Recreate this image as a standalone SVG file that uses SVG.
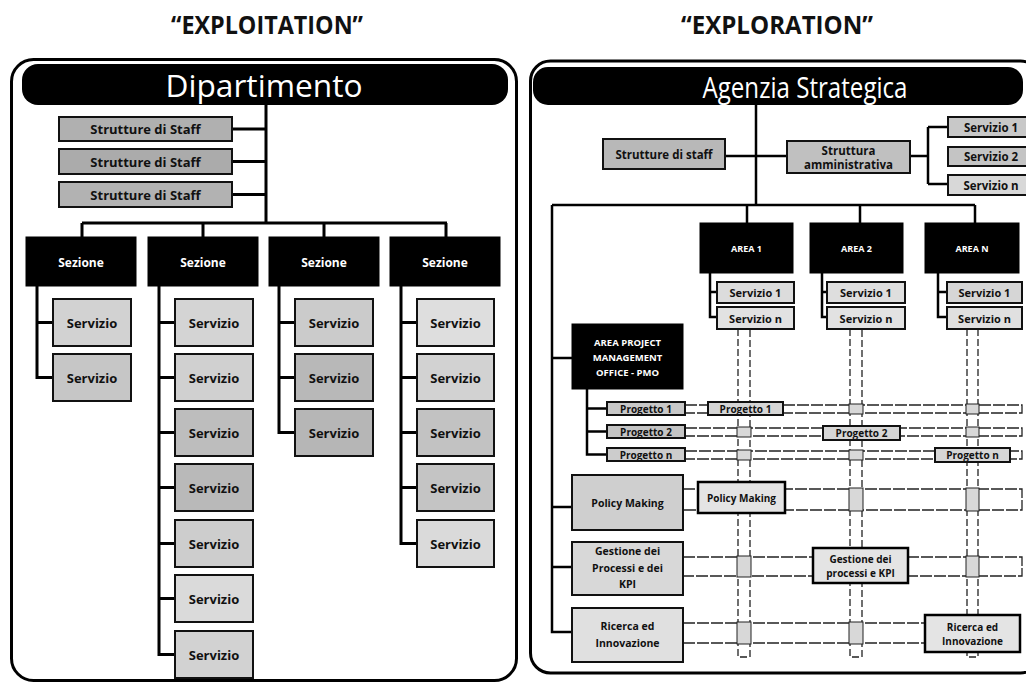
<svg xmlns="http://www.w3.org/2000/svg" width="1026" height="682" viewBox="0 0 1026 682">
<style>
.t{font-family:"Open Sans","Liberation Sans",sans-serif;font-weight:bold;text-anchor:middle;dominant-baseline:central;fill:#111}
.w{fill:#fff}
.h{font-weight:500}
.ln{stroke:#000;stroke-width:3;fill:none}
.lr{stroke:#000;stroke-width:2.5;fill:none}
.bx{stroke:#111;stroke-width:2}
.bk{fill:#000;stroke:#000}
.pipe{stroke:#222;stroke-width:1.3;fill:none;stroke-dasharray:12 2}
.vp{stroke:#222;stroke-width:1.3;fill:none;stroke-dasharray:7 3}
.patch{fill:#d8d8d8;stroke:#222;stroke-width:1}
.rb{fill:#e4e4e4;stroke:#000;stroke-width:2.5}
</style>
<rect width="1026" height="682" fill="#fff"/>
<g id="titles">
<text class="t" x="267" y="24" font-size="25" textLength="192" lengthAdjust="spacingAndGlyphs">“EXPLOITATION”</text>
<text class="t" x="777" y="24" font-size="25" textLength="192" lengthAdjust="spacingAndGlyphs">“EXPLORATION”</text>
</g>
<g id="panel-left">
<rect x="11.5" y="59.5" width="505" height="621" rx="22" fill="none" stroke="#000" stroke-width="3"/>
<rect x="22" y="64" width="486" height="41" rx="16" fill="#000"/>
<text class="t w h" x="264" y="85" font-size="31" textLength="197" lengthAdjust="spacingAndGlyphs">Dipartimento</text>
</g>
<g id="panel-right">
<rect x="530.5" y="61" width="510" height="612" rx="20" fill="none" stroke="#000" stroke-width="3"/>
<rect x="533" y="67" width="490" height="38" rx="15" fill="#000"/>
<text class="t w h" x="805" y="86" font-size="30" textLength="205" lengthAdjust="spacingAndGlyphs">Agenzia Strategica</text>
</g>
<g id="connectors">
<path class="ln" d="M266 105V223M232 129H266M232 161.5H266M232 194.5H266M82 223H447M82 223V237M203 223V237M324 223V237M446 223V237"/>
<path class="ln" d="M37 286V377.5H53M37 322.5H53"/>
<path class="ln" d="M159 286V654.5H175M159 322.5H175M159 377.5H175M159 432.5H175M159 487.5H175M159 543.5H175M159 598.5H175"/>
<path class="ln" d="M279 286V432.5H295M279 322.5H295M279 377.5H295"/>
<path class="ln" d="M401 286V543.5H417M401 322.5H417M401 377.5H417M401 432.5H417M401 487.5H417"/>
<path class="lr" d="M756 105V205M725 156H787M910 156H928M928 127V184M928 127H948M928 184H948M552 205H975M747 205V223M860 205V223M975 205V223"/>
<path class="lr" d="M710 273V317H717M710 292H717M822 273V317H827M822 292H827M938 273V317H947M938 292H947"/>
<path class="lr" d="M552 205V632H572M552 358H572M552 507H572M552 567H572"/>
<path class="lr" d="M587 389V454.5H607M587 408.5H607M587 431.5H607"/>
</g>
<g id="matrix">
<path class="vp" d="M738 329V657H750V329M850 329V657H862V329M967 329V657H978V329"/>
<path class="pipe" d="M685 405H1022V413H685M685 428H1022V436H685M685 451H1022V459H685M683 489H1022V510H683M683 557H1022V576H683M683 623H1020M683 643H1020"/>
<rect class="patch" x="849" y="404" width="14" height="10"/>
<rect class="patch" x="966" y="404" width="13" height="10"/>
<rect class="patch" x="737" y="427" width="14" height="10"/>
<rect class="patch" x="966" y="427" width="13" height="10"/>
<rect class="patch" x="737" y="450" width="14" height="10"/>
<rect class="patch" x="849" y="450" width="14" height="10"/>
<rect class="patch" x="849" y="488" width="14" height="23"/>
<rect class="patch" x="966" y="488" width="13" height="23"/>
<rect class="patch" x="737" y="556" width="14" height="21"/>
<rect class="patch" x="966" y="556" width="13" height="21"/>
<rect class="patch" x="737" y="622" width="14" height="22"/>
<rect class="patch" x="849" y="622" width="14" height="22"/>
</g>
<g id="staff-1"><rect class="bx" x="59" y="117" width="173" height="24" fill="#b0b0b0"/><text class="t" x="145.5" y="129" font-size="13">Strutture di Staff</text></g>
<g id="staff-2"><rect class="bx" x="59" y="149" width="173" height="25" fill="#ababab"/><text class="t" x="145.5" y="161.5" font-size="13">Strutture di Staff</text></g>
<g id="staff-3"><rect class="bx" x="59" y="182" width="173" height="25" fill="#b2b2b2"/><text class="t" x="145.5" y="194.5" font-size="13">Strutture di Staff</text></g>
<g id="sezione-1"><rect class="bk" x="26" y="237" width="110" height="49"/><text class="t w" x="81" y="262" font-size="12">Sezione</text></g>
<g id="sezione-2"><rect class="bk" x="148" y="237" width="110" height="49"/><text class="t w" x="203" y="262" font-size="12">Sezione</text></g>
<g id="sezione-3"><rect class="bk" x="269" y="237" width="110" height="49"/><text class="t w" x="324" y="262" font-size="12">Sezione</text></g>
<g id="sezione-4"><rect class="bk" x="390" y="237" width="110" height="49"/><text class="t w" x="445" y="262" font-size="12">Sezione</text></g>
<g id="s1-servizi">
<rect class="bx" x="53" y="299" width="78" height="47" fill="#d2d2d2"/><text class="t" x="92" y="322.5" font-size="13">Servizio</text>
<rect class="bx" x="53" y="354" width="78" height="47" fill="#c6c6c6"/><text class="t" x="92" y="377.5" font-size="13">Servizio</text>
</g>
<g id="s2-servizi">
<rect class="bx" x="175" y="299" width="78" height="47" fill="#d4d4d4"/><text class="t" x="214" y="322.5" font-size="13">Servizio</text>
<rect class="bx" x="175" y="354" width="78" height="47" fill="#d0d0d0"/><text class="t" x="214" y="377.5" font-size="13">Servizio</text>
<rect class="bx" x="175" y="409" width="78" height="47" fill="#bdbdbd"/><text class="t" x="214" y="432.5" font-size="13">Servizio</text>
<rect class="bx" x="175" y="464" width="78" height="47" fill="#b9b9b9"/><text class="t" x="214" y="487.5" font-size="13">Servizio</text>
<rect class="bx" x="175" y="520" width="78" height="47" fill="#cdcdcd"/><text class="t" x="214" y="543.5" font-size="13">Servizio</text>
<rect class="bx" x="175" y="575" width="78" height="47" fill="#dadada"/><text class="t" x="214" y="598.5" font-size="13">Servizio</text>
<rect class="bx" x="175" y="631" width="78" height="47" fill="#d2d2d2"/><text class="t" x="214" y="654.5" font-size="13">Servizio</text>
</g>
<g id="s3-servizi">
<rect class="bx" x="295" y="299" width="78" height="47" fill="#cbcbcb"/><text class="t" x="334" y="322.5" font-size="13">Servizio</text>
<rect class="bx" x="295" y="354" width="78" height="47" fill="#b8b8b8"/><text class="t" x="334" y="377.5" font-size="13">Servizio</text>
<rect class="bx" x="295" y="409" width="78" height="47" fill="#b6b6b6"/><text class="t" x="334" y="432.5" font-size="13">Servizio</text>
</g>
<g id="s4-servizi">
<rect class="bx" x="417" y="299" width="77" height="47" fill="#dedede"/><text class="t" x="455.5" y="322.5" font-size="13">Servizio</text>
<rect class="bx" x="417" y="354" width="77" height="47" fill="#d2d2d2"/><text class="t" x="455.5" y="377.5" font-size="13">Servizio</text>
<rect class="bx" x="417" y="409" width="77" height="47" fill="#c2c2c2"/><text class="t" x="455.5" y="432.5" font-size="13">Servizio</text>
<rect class="bx" x="417" y="464" width="77" height="47" fill="#c4c4c4"/><text class="t" x="455.5" y="487.5" font-size="13">Servizio</text>
<rect class="bx" x="417" y="520" width="77" height="47" fill="#dadada"/><text class="t" x="455.5" y="543.5" font-size="13">Servizio</text>
</g>
<g id="strutture-staff"><rect class="bx" x="603" y="139" width="122" height="30" fill="#b8b8b8"/><text class="t" x="664" y="154" font-size="11.5">Strutture di staff</text></g>
<g id="struttura-amm"><rect class="bx" x="787" y="141" width="123" height="32" fill="#c0c0c0"/><text class="t" x="848.5" y="150" font-size="11.5">Struttura</text><text class="t" x="848.5" y="164" font-size="11.5">amministrativa</text></g>
<g id="amm-servizio-1"><rect class="bx" x="948" y="117" width="82" height="20" fill="#c8c8c8"/><text class="t" x="991" y="127" font-size="11.5">Servizio 1</text></g>
<g id="amm-servizio-2"><rect class="bx" x="948" y="147" width="82" height="19" fill="#c4c4c4"/><text class="t" x="991" y="156.5" font-size="11.5">Servizio 2</text></g>
<g id="amm-servizio-n"><rect class="bx" x="948" y="175" width="82" height="20" fill="#d8d8d8"/><text class="t" x="991" y="185" font-size="11.5">Servizio n</text></g>
<g id="area-1"><rect class="bk" x="700" y="223" width="93" height="50"/><text class="t w" x="746.5" y="248" font-size="9">AREA 1</text></g>
<g id="area-2"><rect class="bk" x="810" y="223" width="93" height="50"/><text class="t w" x="856.5" y="248" font-size="9">AREA 2</text></g>
<g id="area-n"><rect class="bk" x="925" y="223" width="94" height="50"/><text class="t w" x="972" y="248" font-size="9">AREA N</text></g>
<g id="a1-servizi">
<rect class="bx" x="717" y="282" width="77" height="21" fill="#dcdcdc"/><text class="t" x="755.5" y="292.5" font-size="11">Servizio 1</text>
<rect class="bx" x="717" y="307" width="77" height="22" fill="#e2e2e2"/><text class="t" x="755.5" y="318" font-size="11">Servizio n</text>
</g>
<g id="a2-servizi">
<rect class="bx" x="827" y="282" width="78" height="21" fill="#dedede"/><text class="t" x="866" y="292.5" font-size="11">Servizio 1</text>
<rect class="bx" x="827" y="307" width="78" height="22" fill="#e2e2e2"/><text class="t" x="866" y="318" font-size="11">Servizio n</text>
</g>
<g id="an-servizi">
<rect class="bx" x="947" y="282" width="75" height="21" fill="#d6d6d6"/><text class="t" x="984.5" y="292.5" font-size="11">Servizio 1</text>
<rect class="bx" x="947" y="307" width="75" height="22" fill="#e0e0e0"/><text class="t" x="984.5" y="318" font-size="11">Servizio n</text>
</g>
<g id="pmo"><rect class="bk" x="572" y="324" width="111" height="65"/>
<text class="t w" x="627.5" y="342" font-size="9.5">AREA PROJECT</text>
<text class="t w" x="627.5" y="357" font-size="9.5">MANAGEMENT</text>
<text class="t w" x="627.5" y="372" font-size="9.5">OFFICE - PMO</text></g>
<g id="progetto-1"><rect class="bx" x="607" y="402" width="78" height="13" fill="#c8c8c8"/><text class="t" x="646" y="408.5" font-size="10">Progetto 1</text></g>
<g id="progetto-2"><rect class="bx" x="607" y="425" width="78" height="13" fill="#c4c4c4"/><text class="t" x="646" y="431.5" font-size="10">Progetto 2</text></g>
<g id="progetto-n"><rect class="bx" x="607" y="448" width="78" height="13" fill="#cccccc"/><text class="t" x="646" y="454.5" font-size="10">Progetto n</text></g>
<g id="policy-making"><rect class="bx" x="572" y="475" width="111" height="55" fill="#cfcfcf"/><text class="t" x="627.5" y="502.5" font-size="10.5">Policy Making</text></g>
<g id="gestione"><rect class="bx" x="572" y="542" width="111" height="53" fill="#d8d8d8"/>
<text class="t" x="627.5" y="551" font-size="10.5">Gestione dei</text><text class="t" x="627.5" y="567.5" font-size="10.5">Processi e dei</text><text class="t" x="627.5" y="584" font-size="10.5">KPI</text></g>
<g id="ricerca"><rect class="bx" x="572" y="608" width="111" height="54" fill="#e0e0e0"/>
<text class="t" x="627.5" y="626" font-size="10.5">Ricerca ed</text><text class="t" x="627.5" y="643" font-size="10.5">Innovazione</text></g>
<g id="m-progetto-1"><rect class="bx" x="708" y="402" width="75" height="13" fill="#d6d6d6"/><text class="t" x="745.5" y="408.5" font-size="10">Progetto 1</text></g>
<g id="m-progetto-2"><rect class="bx" x="823" y="426" width="77" height="14" fill="#d6d6d6"/><text class="t" x="861.5" y="433" font-size="10">Progetto 2</text></g>
<g id="m-progetto-n"><rect class="bx" x="935" y="448" width="75" height="14" fill="#d6d6d6"/><text class="t" x="972.5" y="455" font-size="10">Progetto n</text></g>
<g id="m-policy"><rect class="rb" x="698" y="482" width="87" height="31"/><text class="t" x="741.5" y="497.5" font-size="10">Policy Making</text></g>
<g id="m-gestione"><rect class="rb" x="813" y="548" width="95" height="35"/><text class="t" x="860.5" y="559" font-size="10">Gestione dei</text><text class="t" x="860.5" y="573" font-size="10">processi e KPI</text></g>
<g id="m-ricerca"><rect class="rb" x="925" y="615" width="95" height="37"/><text class="t" x="972.5" y="627" font-size="10">Ricerca ed</text><text class="t" x="972.5" y="641" font-size="10">Innovazione</text></g>
</svg>
